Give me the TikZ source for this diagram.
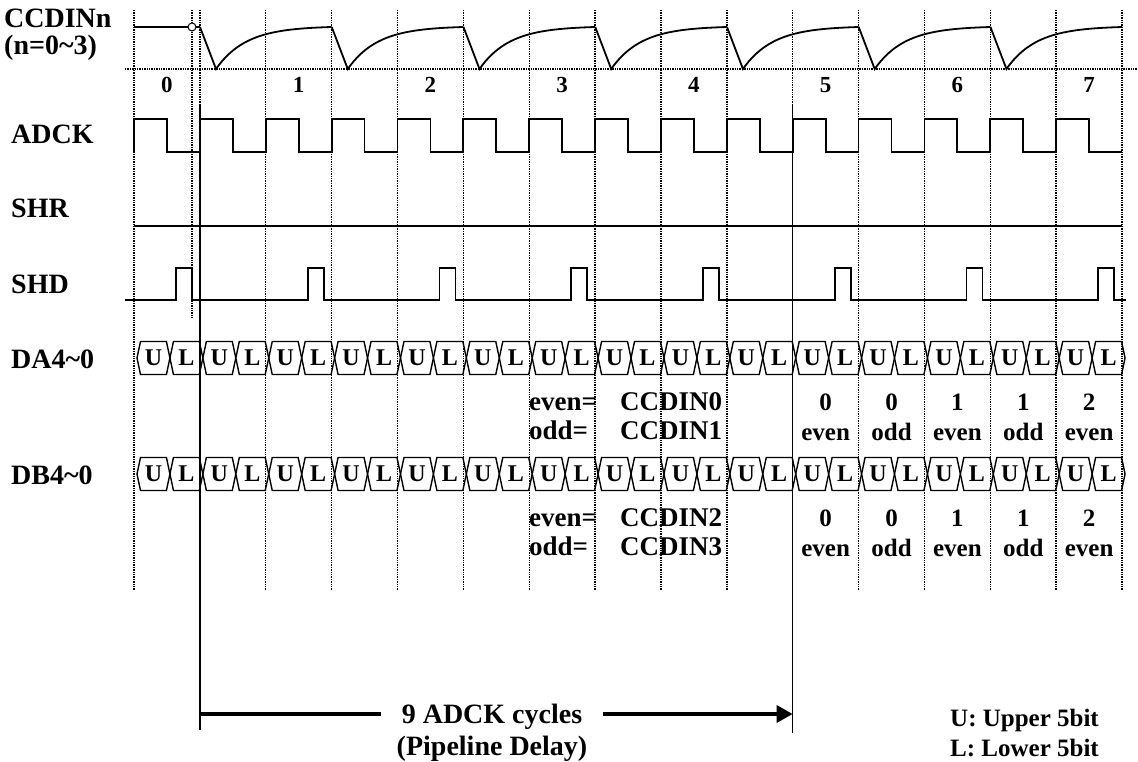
\documentclass[tikz,border=0pt]{standalone}
\usepackage{fontspec}
\setmainfont{Liberation Serif}
\usetikzlibrary{arrows.meta, calc}
\newcommand{\cyc}{65.87}
\newcommand{\xstart}{134}
\newcommand{\buscell}[4]{%
  \draw[busline] (#1,#2) -- ++(3.5,-16.5) -- ++(25.93,0) -- ++(3.5,16.5) -- ++(-3.5,16.5) -- ++(-25.93,0) -- cycle;
  \node[cellletter] (#4) at ({#1+16.47},#2) {#3};}

\begin{document}
\begin{tikzpicture}[x=1pt, y=-1pt,
    wave/.style={line width=1.8pt},
    gridline/.style={line width=1.4pt, densely dotted},
    markline/.style={line width=1.5pt},
    busline/.style={line width=1.4pt},
    delayline/.style={line width=3.2pt},
    siglabel/.style={anchor=base west, inner sep=0pt, font=\fontsize{28}{30}\selectfont\bfseries},
    slotnum/.style={anchor=base, inner sep=0pt, font=\fontsize{23}{25}\selectfont\bfseries},
    cellletter/.style={inner sep=0pt, font=\fontsize{24}{26}\selectfont\bfseries},
    annot/.style={anchor=base west, inner sep=0pt, font=\fontsize{27}{29}\selectfont\bfseries},
    valtag/.style={anchor=base, inner sep=0pt, font=\fontsize{25}{27}\selectfont\bfseries}]

    \useasboundingbox (0,0) rectangle (1138,762);

    % Grid
    \foreach \k in {0,...,15}
        \draw[gridline] ({\xstart+\cyc*\k},10) -- ({\xstart+\cyc*\k},590);
    \draw[gridline] (192,10) -- (192,318);
    \draw[gridline] (125,69) -- (1138,69);

    % Signal names
    \node[siglabel] (ccdin) at (4,28) {CCDINn};
    \node[siglabel] (nrange) at (4,55) {(n=0\textasciitilde3)};
    \node[siglabel] (adck) at (11,144) {ADCK};
    \node[siglabel] (shr) at (11,218) {SHR};
    \node[siglabel] (shd) at (11,293) {SHD};
    \node[siglabel] (da) at (11,368) {DA4\textasciitilde0};
    \node[siglabel] (db) at (11,484) {DB4\textasciitilde0};

    % CCDIN
    \draw[wave] (\xstart,27) -- (200,27);
    \foreach \j in {0,...,6} {
        \pgfmathsetmacro{\dropx}{200+2*\cyc*\j}
        \draw[wave] (\dropx,27) -- ({\dropx+16},69)
            -- plot[domain=0:115.74, samples=40] ({\dropx+16+\x},{69-42.9*(1-exp(-\x/30))});
    }
    \node[circle, draw, fill=white, inner sep=0pt, minimum size=8pt, line width=1pt] (hold) at (192,27) {};
    \foreach \k in {0,...,7}
        \node[slotnum] (slot\k) at ({\xstart+\cyc/2+2*\cyc*\k},93) {\k};

    % ADCK, SHR, SHD
    \draw[wave] (\xstart,152) \foreach \k in {0,...,14} { -- ++(0,-33) -- ++(\cyc/2,0) -- ++(0,33) -- ++(\cyc/2,0) };
    \draw[wave] (\xstart,226) -- (1122,226);
    \draw[wave] (125,300) \foreach \j in {0,...,7} { -- ({176+2*\cyc*\j},300) -- ++(0,-32) -- ++(16,0) -- ++(0,32) } -- (1126,300);

    % Data buses
    \foreach \p in {0,...,14} {
        \pgfmathsetmacro{\cx}{137+\cyc*\p}
        \buscell{\cx}{358}{U}{da-u\p}
        \buscell{\cx}{474}{U}{db-u\p}
        \pgfmathsetmacro{\cx}{137+\cyc*\p+\cyc/2}
        \buscell{\cx}{358}{L}{da-l\p}
        \buscell{\cx}{474}{L}{db-l\p}
    }

    % Labels
    \node[annot] (evena) at (529,410) {even=};
    \node[annot] (cina0) at (620,410) {CCDIN0};
    \node[annot] (odda) at (529,439) {odd=};
    \node[annot] (cina1) at (620,439) {CCDIN1};
    \node[annot] (evenb) at (529,526) {even=};
    \node[annot] (cinb2) at (620,526) {CCDIN2};
    \node[annot] (oddb) at (529,555) {odd=};
    \node[annot] (cinb3) at (620,555) {CCDIN3};
    \foreach \i/\n/\w in {0/0/even, 1/0/odd, 2/1/even, 3/1/odd, 4/2/even} {
        \node[valtag] (dan\i) at ({\xstart+10.5*\cyc+\i*\cyc},410) {\n};
        \node[valtag] (daw\i) at ({\xstart+10.5*\cyc+\i*\cyc},440) {\w};
        \node[valtag] (dbn\i) at ({\xstart+10.5*\cyc+\i*\cyc},526) {\n};
        \node[valtag] (dbw\i) at ({\xstart+10.5*\cyc+\i*\cyc},556) {\w};
    }

    % Pipeline delay
    \coordinate (arra) at ({\xstart+\cyc},714);
    \coordinate (arrb) at ({\xstart+10*\cyc},714);
    \draw[markline] ({\xstart+\cyc},105) -- ({\xstart+\cyc},730);
    \draw[markline] ({\xstart+10*\cyc},105) -- ({\xstart+10*\cyc},733);
    \node[annot, anchor=base, font=\fontsize{28}{30}\selectfont\bfseries, inner xsep=21pt] (delay) at (492,723) {9 ADCK cycles};
    \node[annot, anchor=base, font=\fontsize{28}{30}\selectfont\bfseries] (pipe) at (492,755) {(Pipeline Delay)};
    \draw[delayline] (arra) -- (arra -| delay.west);
    \draw[delayline, -{Triangle[length=16pt, width=17pt]}] (arra -| delay.east) -- (arrb);

    % Key
    \node[annot, font=\fontsize{25}{27}\selectfont\bfseries] (keyu) at (950,726) {U: Upper 5bit};
    \node[annot, font=\fontsize{25}{27}\selectfont\bfseries] (keyl) at (950,756) {L: Lower 5bit};
\end{tikzpicture}
\end{document}
